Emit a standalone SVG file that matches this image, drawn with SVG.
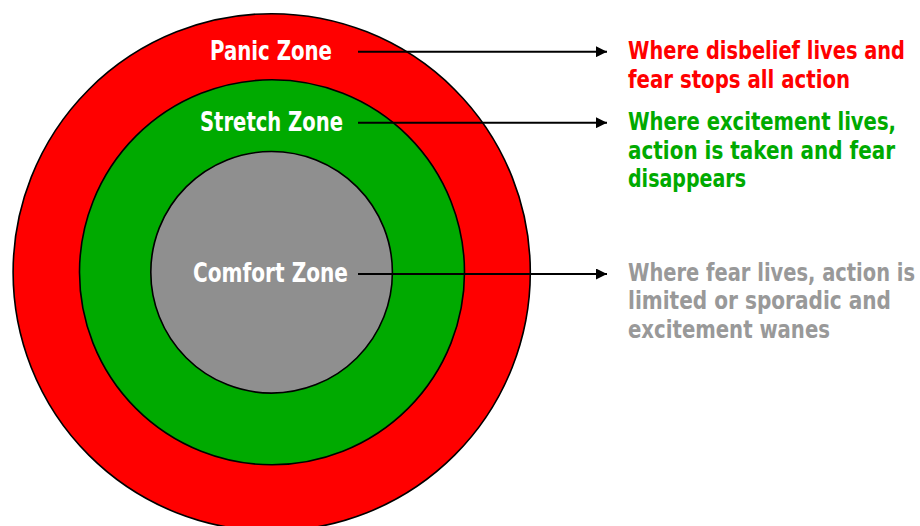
<svg xmlns="http://www.w3.org/2000/svg" width="920" height="526" viewBox="0 0 920 526">
<style>
.ring{stroke:#000;stroke-width:1.6}
.lbl{font-family:"DejaVu Sans Condensed","Liberation Sans Narrow","Liberation Sans",sans-serif;font-weight:bold;font-size:26px;fill:#fff}
.desc{font-family:"DejaVu Sans Condensed","Liberation Sans Narrow","Liberation Sans",sans-serif;font-weight:bold;font-size:24px}
.conn{stroke:#000;stroke-width:2;fill:none}
</style>
<defs>
<marker id="arr" viewBox="0 0 10 10" refX="10" refY="5" markerWidth="5.5" markerHeight="5.5" orient="auto" markerUnits="strokeWidth">
<path d="M0,0 L10,5 L0,10 z" fill="#000"/>
</marker>
</defs>
<rect width="920" height="526" fill="#fff"/>
<g id="panic-zone">
<circle class="ring" cx="271.7" cy="272.3" r="258.6" fill="#ff0000"/>
<text class="lbl" x="271" y="59.5" text-anchor="middle" textLength="122" lengthAdjust="spacingAndGlyphs">Panic Zone</text>
</g>
<g id="stretch-zone">
<circle class="ring" cx="272" cy="272.3" r="192.5" fill="#00aa00"/>
<text class="lbl" x="271.5" y="130.5" text-anchor="middle" textLength="143" lengthAdjust="spacingAndGlyphs">Stretch Zone</text>
</g>
<g id="comfort-zone">
<circle class="ring" cx="271.6" cy="272.3" r="120.8" fill="#8f8f8f"/>
<text class="lbl" x="270.5" y="281.5" text-anchor="middle" textLength="155" lengthAdjust="spacingAndGlyphs">Comfort Zone</text>
</g>
<g id="connectors">
<line class="conn" x1="358" y1="51.7" x2="607" y2="51.7" marker-end="url(#arr)"/>
<line class="conn" x1="358" y1="122.7" x2="607" y2="122.7" marker-end="url(#arr)"/>
<line class="conn" x1="358" y1="274" x2="607" y2="274" marker-end="url(#arr)"/>
</g>
<g id="panic-desc" class="desc" fill="#ff0000">
<text transform="translate(628,59.3) scale(0.9,1)" textLength="307.8" lengthAdjust="spacingAndGlyphs">Where disbelief lives and</text>
<text transform="translate(628,87.5) scale(0.9,1)" textLength="246.7" lengthAdjust="spacingAndGlyphs">fear stops all action</text>
</g>
<g id="stretch-desc" class="desc" fill="#00aa00">
<text transform="translate(628,130) scale(0.9,1)" textLength="297.8" lengthAdjust="spacingAndGlyphs">Where excitement lives,</text>
<text transform="translate(628,158.5) scale(0.9,1)" textLength="296.7" lengthAdjust="spacingAndGlyphs">action is taken and fear</text>
<text transform="translate(628,187) scale(0.9,1)" textLength="131.1" lengthAdjust="spacingAndGlyphs">disappears</text>
</g>
<g id="comfort-desc" class="desc" fill="#999999">
<text transform="translate(628,280.7) scale(0.9,1)" textLength="318.9" lengthAdjust="spacingAndGlyphs">Where fear lives, action is</text>
<text transform="translate(628,309.3) scale(0.9,1)" textLength="292.2" lengthAdjust="spacingAndGlyphs">limited or sporadic and</text>
<text transform="translate(628,337.8) scale(0.9,1)" textLength="224.4" lengthAdjust="spacingAndGlyphs">excitement wanes</text>
</g>
</svg>
